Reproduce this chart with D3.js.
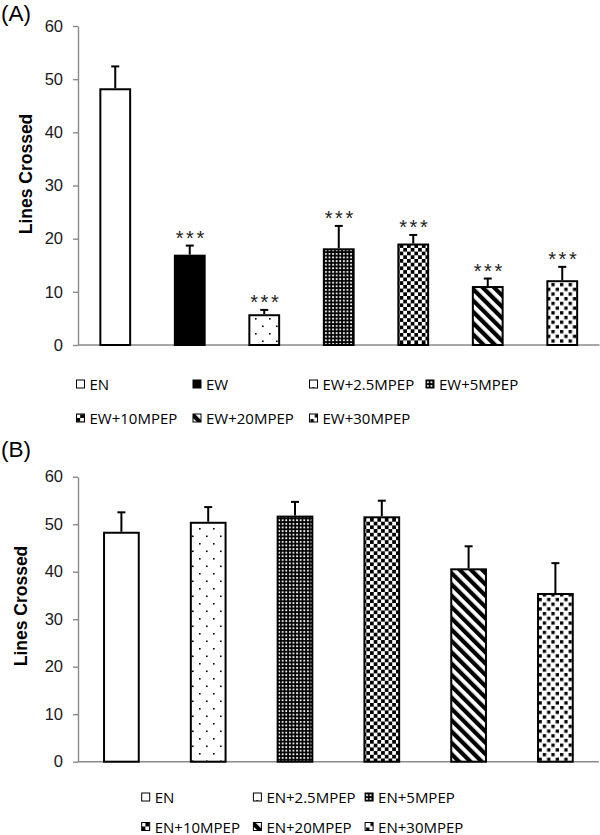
<!DOCTYPE html>
<html><head><meta charset="utf-8">
<script src="https://cdn.jsdelivr.net/npm/d3@7"></script>
<style>body{margin:0;background:#fff}</style>
</head><body>
<svg id="c" width="600" height="835" xmlns="http://www.w3.org/2000/svg"></svg>
<script>
// ---------- data ----------
const categoriesA = ["EN","EW","EW+2.5MPEP","EW+5MPEP","EW+10MPEP","EW+20MPEP","EW+30MPEP"];
const meansA = [48.1, 16.8, 5.6, 18.0, 18.9, 10.9, 12.0];
const semA   = [4.3, 1.9, 1.0, 4.4, 1.8, 1.6, 2.7];
const sigA   = ["", "***", "***", "***", "***", "***", "***"];

const categoriesB = ["EN","EN+2.5MPEP","EN+5MPEP","EN+10MPEP","EN+20MPEP","EN+30MPEP"];
const meansB = [48.2, 50.3, 51.6, 51.45, 40.5, 35.3];
const semB   = [4.3, 3.3, 3.1, 3.5, 4.85, 6.5];

const yTicks = [0, 10, 20, 30, 40, 50, 60];
const yLabel = "Lines Crossed";

// ---------- style ----------
function fillFor(cat) {
  if (cat === "EN") return "#fff";
  if (cat === "EW") return "#000";
  if (cat.includes("+2.5")) return "url(#pDots)";
  if (cat.includes("+5M")) return "url(#pGrid)";
  if (cat.includes("+10")) return "url(#pCheck)";
  if (cat.includes("+20")) return "url(#pDiag)";
  if (cat.includes("+30")) return "url(#pConf)";
  return "#fff";
}
const AXIS = "#8a8a8a";
const FONT = "Liberation Sans, Arial, Helvetica, sans-serif";

const svg = d3.select("#c");
const defs = svg.append("defs");
// dots
let p = defs.append("pattern").attr("id","pDots").attr("patternUnits","userSpaceOnUse").attr("width",14).attr("height",15);
p.append("rect").attr("width",14).attr("height",15).attr("fill","#fff");
p.append("rect").attr("x",3).attr("y",3).attr("width",1.6).attr("height",1.6).attr("fill","#000");
p.append("rect").attr("x",10).attr("y",10.5).attr("width",1.6).attr("height",1.6).attr("fill","#000");
// fine grid
p = defs.append("pattern").attr("id","pGrid").attr("patternUnits","userSpaceOnUse").attr("width",3.6).attr("height",3.6);
p.append("rect").attr("width",3.6).attr("height",3.6).attr("fill","#000");
p.append("rect").attr("x",1).attr("y",1).attr("width",1.8).attr("height",1.8).attr("fill","#fff");
// checkerboard
p = defs.append("pattern").attr("id","pCheck").attr("patternUnits","userSpaceOnUse").attr("width",7.4).attr("height",7.4);
p.append("rect").attr("width",7.4).attr("height",7.4).attr("fill","#fff");
p.append("rect").attr("x",0).attr("y",0).attr("width",3.7).attr("height",3.7).attr("fill","#000");
p.append("rect").attr("x",3.7).attr("y",3.7).attr("width",3.7).attr("height",3.7).attr("fill","#000");
// diagonal
p = defs.append("pattern").attr("id","pDiag").attr("patternUnits","userSpaceOnUse").attr("width",8).attr("height",8)
  .attr("patternTransform","rotate(-45)");
p.append("rect").attr("width",8).attr("height",8).attr("fill","#fff");
p.append("rect").attr("width",4.2).attr("height",8).attr("fill","#000");
// confetti squares
p = defs.append("pattern").attr("id","pConf").attr("patternUnits","userSpaceOnUse").attr("width",8.6).attr("height",9.4);
p.append("rect").attr("width",8.6).attr("height",9.4).attr("fill","#fff");
p.append("rect").attr("x",1).attr("y",1).attr("width",3.3).attr("height",3.3).attr("fill","#000");
p.append("rect").attr("x",5.3).attr("y",5.7).attr("width",3.3).attr("height",3.3).attr("fill","#000");

function panel(opts) {
  const {cats, means, sems, sig, x0, x1, yTop, yBot, tag, tagY, labelX, labelY} = opts;
  const g = svg.append("g");
  const y = d3.scaleLinear().domain([0, 60]).range([yBot, yTop]);
  const x = d3.scaleBand().domain(cats).range([x0, x1]).paddingInner(0.6).paddingOuter(0.3);

  // y axis
  const ax = g.append("g").attr("transform", `translate(${x0},0)`)
    .call(d3.axisLeft(y).tickValues(yTicks).tickSize(5).tickSizeOuter(0).tickPadding(10));
  ax.select(".domain").attr("stroke", AXIS).attr("stroke-width", 1.4);
  ax.selectAll(".tick line").attr("stroke", AXIS).attr("stroke-width", 1.4);
  ax.selectAll(".tick text").attr("font-family", FONT)
    .attr("font-size", 16.5).attr("fill", "#1a1a1a");

  // x axis baseline
  g.append("line").attr("x1", x0).attr("x2", x1).attr("y1", y(0)).attr("y2", y(0))
    .attr("stroke", AXIS).attr("stroke-width", 1.6);

  // bars
  g.selectAll("rect.bar").data(cats).join("rect").attr("class","bar")
    .attr("x", d => x(d)).attr("width", x.bandwidth())
    .attr("y", (d,i) => y(means[i])).attr("height", (d,i) => y(0) - y(means[i]))
    .attr("fill", d => fillFor(d)).attr("stroke", "#000").attr("stroke-width", 2);

  // error bars (upper only)
  g.selectAll("line.err").data(cats).join("line").attr("class","err")
    .attr("x1", d => x(d) + x.bandwidth()/2).attr("x2", d => x(d) + x.bandwidth()/2)
    .attr("y1", (d,i) => y(means[i]) - 1).attr("y2", (d,i) => y(means[i] + sems[i]))
    .attr("stroke", "#000").attr("stroke-width", 2);
  g.selectAll("line.cap").data(cats).join("line").attr("class","cap")
    .attr("x1", d => x(d) + x.bandwidth()/2 - 4).attr("x2", d => x(d) + x.bandwidth()/2 + 4)
    .attr("y1", (d,i) => y(means[i] + sems[i])).attr("y2", (d,i) => y(means[i] + sems[i]))
    .attr("stroke", "#000").attr("stroke-width", 2);

  if (sig) {
    g.selectAll("text.sig").data(cats).join("text").attr("class","sig")
      .attr("x", d => x(d) + x.bandwidth()/2 + 1.5).attr("y", (d,i) => y(means[i] + sems[i]) - 1)
      .attr("text-anchor", "middle").attr("font-family", FONT)
      .attr("font-size", 20).attr("letter-spacing", 2.5).attr("fill", "#222")
      .text((d,i) => sig[i]);
  }

  // y label
  g.append("text").attr("transform", `translate(${labelX},${labelY}) rotate(-90)`)
    .attr("text-anchor", "middle").attr("font-family", FONT)
    .attr("font-weight", "bold").attr("font-size", 17.5).attr("fill", "#000").text(yLabel);

  // panel tag
  g.append("text").attr("x", 1).attr("y", tagY).attr("font-family", FONT)
    .attr("font-size", 22.5).attr("fill", "#000").text(tag);
}

panel({cats: categoriesA, means: meansA, sems: semA, sig: sigA, x0: 78, x1: 599.5,
  yTop: 26, yBot: 345, tag: "(A)", tagY: 20.5, labelX: 32, labelY: 174});
panel({cats: categoriesB, means: meansB, sems: semB, sig: null, x0: 78, x1: 598.8,
  yTop: 476.7, yBot: 761.7, tag: "(B)", tagY: 457, labelX: 27, labelY: 606});

// legends
function legend(cats, startX, colStep, perRow, rowYs) {
  const g = svg.append("g");
  const items = g.selectAll("g.item").data(cats).join("g").attr("class","item")
    .attr("transform", (d,i) => `translate(${startX + (i % perRow) * colStep},${rowYs[Math.floor(i / perRow)]})`);
  items.append("rect").attr("x", 0).attr("y", -4).attr("width", 8).attr("height", 8)
    .attr("fill", d => fillFor(d)).attr("stroke", "#000").attr("stroke-width", 1);
  items.append("text").attr("x", 13).attr("y", 0).attr("dominant-baseline", "central")
    .attr("font-family", "Open Sans, sans-serif").attr("font-size", 15).attr("fill", "#000")
    .text(d => d);
}
legend(categoriesA, 76.5, 116.5, 4, [384, 418]);
legend(categoriesB, 141.7, 111.7, 3, [797, 826.5]);
</script>
</body></html>
